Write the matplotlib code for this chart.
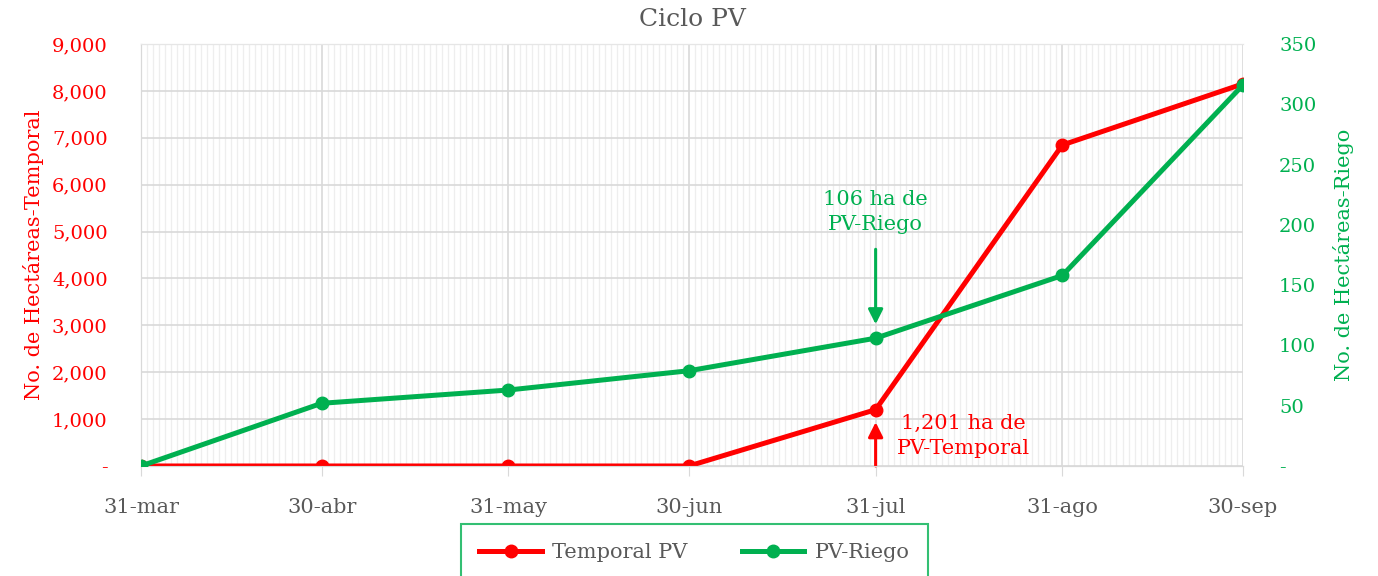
import matplotlib
matplotlib.use("Agg")
import matplotlib.pyplot as plt
import matplotlib.dates as mdates
import matplotlib.ticker as mticker
from datetime import date

plt.rcParams['font.family'] = ['DejaVu Serif']

# datos
fechas = [date(2021, 3, 31), date(2021, 4, 30), date(2021, 5, 31), date(2021, 6, 30),
          date(2021, 7, 31), date(2021, 8, 31), date(2021, 9, 30)]
etiquetas = ['31-mar', '30-abr', '31-may', '30-jun', '31-jul', '31-ago', '30-sep']
temporal = [0, 0, 0, 0, 1201, 6845, 8150]
riego = [0, 52, 63, 79, 106, 158, 316]

rojo = '#ff0000'
verde = '#00b050'
gris = '#595959'

fig = plt.figure(figsize=(13.78, 5.76), dpi=100)
ax = fig.add_axes([0.1023, 0.191, 0.7997, 0.7326])
ax2 = ax.twinx()

ax.plot(fechas, temporal, color=rojo, lw=3.6, marker='o', ms=9, label='Temporal PV', zorder=3)
ax2.plot(fechas, riego, color=verde, lw=3.6, marker='o', ms=9, label='PV-Riego', zorder=3)

ax.set_xlim(fechas[0], fechas[-1])
ax.set_ylim(0, 9000)
ax2.set_ylim(0, 350)

ax.xaxis.set_major_locator(mticker.FixedLocator(mdates.date2num(fechas)))
ax.xaxis.set_major_formatter(mticker.FixedFormatter(etiquetas))
ax.xaxis.set_minor_locator(mdates.DayLocator())
ax.yaxis.set_major_locator(mticker.MultipleLocator(1000))
ax2.yaxis.set_major_locator(mticker.MultipleLocator(50))

def miles(v, pos):
    return '-' if v == 0 else f'{v:,.0f}'

ax.yaxis.set_major_formatter(mticker.FuncFormatter(miles))
ax2.yaxis.set_major_formatter(mticker.FuncFormatter(miles))

ax.grid(which='major', color='#d9d9d9', lw=1.2)
ax.grid(which='minor', axis='x', color='#eeeeee', lw=0.9)
ax.set_axisbelow(True)

for a in (ax, ax2):
    for s in a.spines.values():
        s.set_color('#d9d9d9')
    a.spines['right'].set_visible(False)
    a.spines['top'].set_color('#e6e6e6')

ax.tick_params(axis='x', which='major', colors='#d9d9d9', labelcolor=gris, labelsize=15, length=7, pad=16)
ax.tick_params(axis='x', which='minor', length=0)
ax.tick_params(axis='y', colors=rojo, labelsize=14, length=0, pad=24)
ax2.tick_params(axis='y', colors=verde, labelsize=14, length=0, pad=26)

ax.set_ylabel('No. de Hectáreas-Temporal', color=rojo, fontsize=15, labelpad=6)
ax2.set_ylabel('No. de Hectáreas-Riego', color=verde, fontsize=15, labelpad=12)
ax.set_title('Ciclo PV', color=gris, fontsize=18, pad=13)

# anotaciones
ax2.annotate('', xy=(fechas[4], riego[4]), xytext=(0, 64), textcoords='offset points',
             arrowprops=dict(arrowstyle='-|>', color=verde, lw=2.2, mutation_scale=22,
                             shrinkA=0, shrinkB=10))
ax2.annotate('106 ha de\nPV-Riego', xy=(fechas[4], riego[4]), xytext=(0, 91),
             textcoords='offset points', ha='center', va='center', color=verde,
             fontsize=15, linespacing=1.4)
ax.annotate('', xy=(fechas[4], temporal[4]), xytext=(fechas[4], 0),
            arrowprops=dict(arrowstyle='-|>', color=rojo, lw=2.2, mutation_scale=22,
                            shrinkA=0, shrinkB=9))
ax.annotate('1,201 ha de\nPV-Temporal', xy=(fechas[4], temporal[4]), xytext=(63, -19),
            textcoords='offset points', ha='center', va='center', color=rojo,
            fontsize=15, linespacing=1.4)

h1, l1 = ax.get_legend_handles_labels()
h2, l2 = ax2.get_legend_handles_labels()
leg = fig.legend(h1 + h2, l1 + l2, loc='upper center', bbox_to_anchor=(0.504, 0.09),
                 ncol=2, fontsize=15, frameon=True, fancybox=False, edgecolor=verde,
                 handlelength=3, columnspacing=2.6, borderpad=0.9, handletextpad=0.5,
                 borderaxespad=0)
leg.get_frame().set_linewidth(1.5)
for t in leg.get_texts():
    t.set_color(gris)

fig.savefig('out.png', dpi=100)
